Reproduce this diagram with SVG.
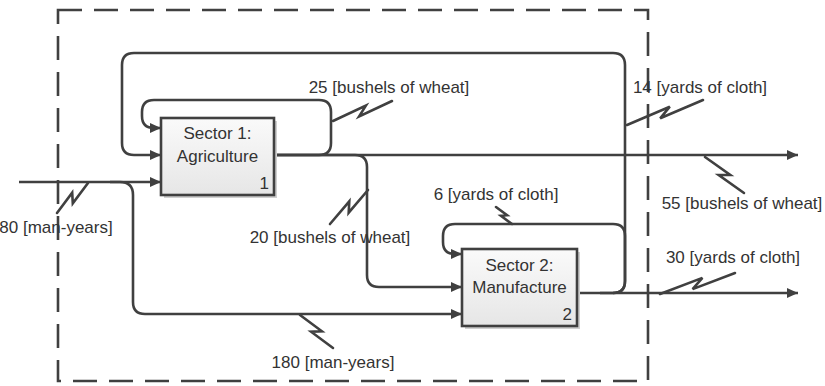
<svg xmlns="http://www.w3.org/2000/svg" width="825" height="386" viewBox="0 0 825 386">
<style>
  .ln{fill:none;stroke:#404040;stroke-width:2.6;stroke-linejoin:round}
  .arr{marker-end:url(#ah)}
  .bolt{fill:none;stroke:#404040;stroke-width:2.6;stroke-linejoin:miter;stroke-linecap:round}
  .box{fill:url(#bg);stroke:#404040;stroke-width:2.6}
  .sh{fill:#d0d0d0}
  .t{font-family:"Liberation Sans",Arial,sans-serif;font-size:17px;fill:#333333}
  .c{text-anchor:middle}
  .e{text-anchor:end}
</style>
<defs>
  <marker id="ah" markerUnits="userSpaceOnUse" markerWidth="11" markerHeight="10" refX="11" refY="5" orient="auto">
    <path d="M0,0 L11,5 L0,10 z" fill="#404040"/>
  </marker>
  <linearGradient id="bg" x1="0" y1="0" x2="0" y2="1">
    <stop offset="0" stop-color="#fafafa"/>
    <stop offset="1" stop-color="#e6e6e6"/>
  </linearGradient>
</defs>

<rect x="58" y="10" width="590" height="371" fill="none" stroke="#404040" stroke-width="2.6" stroke-dasharray="24 12"/>

<g id="connectors">
  <path class="ln arr" d="M577,293 H798"/>
  <path class="ln arr" d="M600,293 H613 Q625,293 625,281 V65 Q625,53 613,53 H134 Q122,53 122,65 V143 Q122,155 134,155 H161"/>
  <path class="ln arr" d="M613,293 Q625,293 625,281 V236 Q625,224 613,224 H455 Q443,224 443,236 V242 Q443,254 455,254 H462"/>
  <path class="ln arr" d="M274,155 H319 Q331,155 331,143 V112 Q331,100 319,100 H154 Q142,100 142,112 V116 Q142,128 154,128 H161"/>
  <path class="ln arr" d="M274,155 H798"/>
  <path class="ln arr" d="M274,155 H355 Q367,155 367,167 V275 Q367,287 379,287 H462"/>
  <path class="ln arr" d="M19,182 H161"/>
  <path class="ln arr" d="M110,182 H120 Q133,182 133,195 V302 Q133,314 145,314 H462"/>

  <polyline class="bolt" points="333,121 365.9,105.6 359.1,116.4 392,101"/>
  <polyline class="bolt" points="627,125 669.8,106.7 660.2,118.3 703,100"/>
  <polyline class="bolt" points="705,157 730.3,175 718.7,175 744,193"/>
  <polyline class="bolt" points="368,190 348.7,212.7 349.3,201.3 330,224"/>
  <polyline class="bolt" points="88,183 72.8,203.3 72.2,192.7 57,213"/>
  <polyline class="bolt" points="300,315 321.9,331.3 311.1,331.7 333,348"/>
  <polyline class="bolt" points="512,224 500.9,215.8 507.1,215.2 496,207"/>
  <polyline class="bolt" points="660,294 702.4,277.9 692.6,289.1 735,273"/>
</g>

<g id="sector1">
  <rect class="sh" x="164" y="121" width="113" height="77"/>
  <rect class="box" x="161" y="118" width="113" height="77"/>
  <text class="t c" x="217.5" y="139">Sector 1:</text>
  <text class="t c" x="217.5" y="162">Agriculture</text>
  <text class="t e" x="269" y="189">1</text>
</g>

<g id="sector2">
  <rect class="sh" x="465" y="252" width="115" height="77"/>
  <rect class="box" x="462" y="249" width="115" height="77"/>
  <text class="t c" x="519.5" y="271">Sector 2:</text>
  <text class="t c" x="519.5" y="293">Manufacture</text>
  <text class="t e" x="572" y="320">2</text>
</g>

<g id="labels">
  <text class="t c" x="389" y="93">25 [bushels of wheat]</text>
  <text class="t c" x="700" y="93">14 [yards of cloth]</text>
  <text class="t c" x="742" y="209">55 [bushels of wheat]</text>
  <text class="t c" x="496" y="200">6 [yards of cloth]</text>
  <text class="t c" x="733" y="263">30 [yards of cloth]</text>
  <text class="t c" x="330" y="243">20 [bushels of wheat]</text>
  <text class="t c" x="56" y="233">80 [man-years]</text>
  <text class="t c" x="333" y="368">180 [man-years]</text>
</g>
</svg>
